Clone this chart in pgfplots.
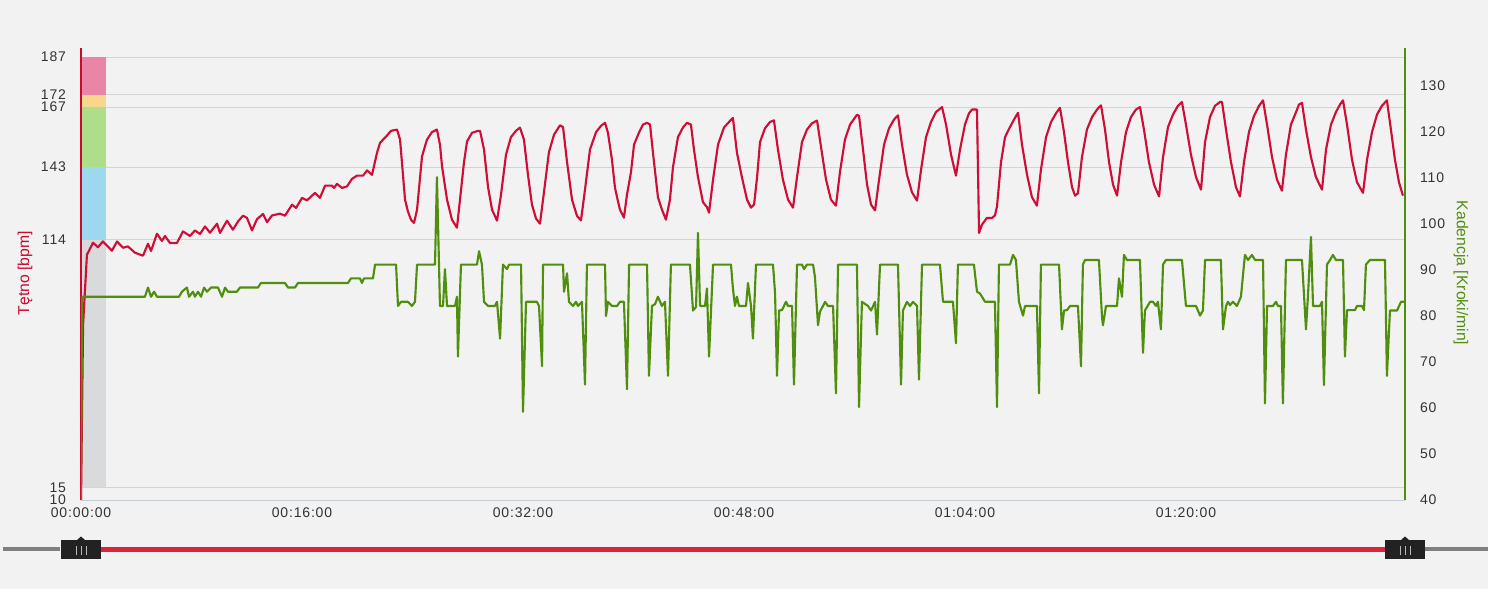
\documentclass[border=0pt]{standalone}
\usepackage{fontspec}
\setmainfont{Liberation Sans}
\usepackage{pgfplots}
\pgfplotsset{compat=1.18}
\definecolor{bg}{RGB}{242,242,242}
\definecolor{hrred}{RGB}{206,14,54}
\definecolor{axred}{RGB}{200,10,45}
\definecolor{cadgreen}{RGB}{80,143,14}
\definecolor{gridc}{RGB}{212,212,212}
\definecolor{botc}{RGB}{200,206,214}
\definecolor{tickc}{RGB}{51,51,51}
\definecolor{zpink}{RGB}{233,134,168}
\definecolor{zyellow}{RGB}{246,215,140}
\definecolor{zgreen}{RGB}{174,222,138}
\definecolor{zblue}{RGB}{157,216,238}
\definecolor{zgray}{RGB}{217,218,219}
\definecolor{slred}{RGB}{218,36,62}
\definecolor{slgray}{RGB}{128,128,128}
\definecolor{handle}{RGB}{34,34,34}
\newcommand{\tickfont}{\fontsize{10.5pt}{12pt}\selectfont\addfontfeatures{LetterSpace=6}}
\newcommand{\labfont}{\fontsize{11.8pt}{13pt}\selectfont}
\begin{document}
\begin{tikzpicture}
\useasboundingbox[fill=bg] (0,0) rectangle (1116pt,441.75pt);
% slider
\begin{scope}[x=0.75pt,y=0.75pt]
\draw[slgray,line width=3pt] (3,40)--(60,40);
\draw[slgray,line width=3pt] (1425,40)--(1488,40);
\draw[slred,line width=3.75pt] (100,40)--(1385,40);
\foreach \c in {81,1405}{
  \fill[handle] (\c-20,30) rectangle (\c+20,49);
  \fill[handle] (\c-4,49)--(\c,52.5)--(\c+4,49)--cycle;
  \foreach \d in {-5,0,5}{\draw[gray!55,line width=0.75pt] (\c+\d,34)--(\c+\d,43);}
}
\end{scope}
% heart-rate axis
\begin{axis}[
  at={(60.75pt,66.75pt)}, anchor=south west,
  scale only axis, width=993pt, height=339pt,
  xmin=0, xmax=95.86, ymin=10, ymax=190.6,
  axis x line*=bottom, axis y line*=left,
  x axis line style={draw=botc, line width=0.75pt},
  y axis line style={draw=axred, line width=1.5pt},
  xtick={0,16,32,48,64,80},
  xticklabels={00:00:00,00:16:00,00:32:00,00:48:00,01:04:00,01:20:00},
  ytick={10,15,114,143,167,172,187},
  major tick length=0pt,
  ymajorgrids, grid style={draw=gridc, line width=0.75pt},
  tick label style={font=\tickfont, text=tickc},
  xticklabel style={yshift=-2.3pt},
  yticklabel style={xshift=-7.75pt},
  /pgf/number format/assume math mode=true,
  every axis y label/.style={at={(axis description cs:-0.0423,0.502)},anchor=center,rotate=90,font=\labfont,text=axred},
  ylabel={Tętno [bpm]},
]
\addplot[fill=zgray,draw=none] coordinates {(0.08,15)(1.81,15)(1.81,114)(0.08,114)} -- cycle;
\addplot[fill=zblue,draw=none] coordinates {(0.08,114)(1.81,114)(1.81,143)(0.08,143)} -- cycle;
\addplot[fill=zgreen,draw=none] coordinates {(0.08,143)(1.81,143)(1.81,167)(0.08,167)} -- cycle;
\addplot[fill=zyellow,draw=none] coordinates {(0.08,167)(1.81,167)(1.81,172)(0.08,172)} -- cycle;
\addplot[fill=zpink,draw=none] coordinates {(0.08,172)(1.81,172)(1.81,187)(0.08,187)} -- cycle;
\addplot[hrred, line width=1.6pt, mark=none, line join=round] coordinates {
(0,10)(0.15,80)(0.43,108)(0.87,112.8)(1.23,111)(1.59,113.3)(2.24,109.6)(2.61,113.3)(3.04,110.8)(3.40,111.3)(3.91,108.8)(4.49,107.6)(4.85,112.4)(5.07,109.5)(5.50,116.4)(5.86,113.5)(6.08,115.5)(6.44,112.7)(6.95,112.7)(7.38,117.3)(7.89,115.5)(8.25,117.7)(8.62,116.3)(8.98,119.3)(9.34,116.8)(9.85,120.4)(10.06,116.7)(10.57,121.6)(11.00,118)(11.37,121.3)(11.73,123.6)(12.02,122.7)(12.38,117.7)(12.74,122.2)(13.18,124.3)(13.47,121)(13.83,123.7)(14.41,124.4)(14.77,123.6)(15.28,128)(15.57,126.7)(16.00,130.7)(16.36,129.7)(16.94,132.7)(17.30,130.7)(17.67,135.6)(18.17,135.6)(18.32,134.7)(18.53,136.3)(18.90,134.7)(19.26,135.3)(19.62,138.3)(19.98,139.6)(20.42,139.6)(20.71,141.7)(21.07,139.9)(21.43,148.7)(21.65,152.7)
(22.15,155.6)(22.44,157.5)(22.88,158)(23.10,154)(23.46,130)(23.67,125.3)(23.89,122)(24.11,120.7)
(24.33,126)(24.69,147.3)(25.05,154)(25.41,157)(25.77,158)
(25.99,152)(26.14,143.3)(26.50,130)(26.86,122)(27.22,118.8)
(27.44,130)(27.73,145)(27.95,153.3)(28.31,156.7)(28.74,157.5)(28.89,157.5)
(29.18,150)(29.47,135)(29.76,126)(30.12,121.6)
(30.41,132)(30.77,148)(31.13,155)(31.49,157.5)(31.78,158.8)
(32.07,154)(32.36,140)(32.65,128)(32.94,122.5)(33.23,120.4)
(33.52,133)(33.88,149)(34.25,156)(34.68,159.7)(34.90,159)
(35.19,145)(35.55,130)(35.91,123.5)(36.20,121.7)
(36.49,134)(36.85,150)(37.29,157)(37.65,159.5)(37.94,160.7)
(38.15,156.8)(38.44,146)(38.66,134.8)(38.81,131)(39.02,126)(39.31,122.8)
(39.53,132)(39.82,141)(40.04,152)(40.40,156.8)(40.69,160)(40.98,160.7)(41.20,160)
(41.41,148.8)(41.77,131)(42.06,126)(42.35,122)
(42.64,130)(42.86,143)(43.22,155)(43.58,158.8)(43.87,160.7)(44.16,160)
(44.38,150)(44.67,139)(45.03,129)(45.32,127)(45.47,124.8)
(45.76,138)(46.12,152)(46.55,158.8)(46.91,161)(47.20,162.7)
(47.49,148.8)(47.85,139)(48.22,130)(48.51,126.8)(48.73,128)
(48.95,139)(49.16,153)(49.52,158.5)(49.88,161)(50.17,161.7)
(50.46,150)(50.82,138)(51.19,130)(51.55,126.8)
(51.84,139)(52.20,153)(52.56,158)(52.92,160.5)(53.29,161.6)
(53.58,151)(53.94,138)(54.30,130)(54.66,127.6)
(54.95,141)(55.31,154)(55.68,160)(56.18,163.9)(56.33,163.5)
(56.62,150)(56.91,136)(57.20,128)(57.49,125.7)
(57.78,138)(58.14,152)(58.50,158.5)(58.86,162)(59.15,163.7)
(59.44,152)(59.80,140)(60.16,133)(60.53,129.6)
(60.82,142)(61.18,155)(61.54,161)(61.90,165)(62.34,167)
(62.63,160)(62.99,148)(63.35,139.6)
(63.64,150)(64.00,160)(64.29,164.5)(64.51,166)(64.87,166)
(65.02,116.7)(65.23,120)(65.59,122.7)(65.96,122.7)(66.17,123.7)(66.32,127.3)
(66.61,145)(66.90,155)(67.26,159)(67.55,162)(67.84,164.7)
(68.13,152)(68.49,140)(68.85,131)(69.21,127.6)
(69.50,142)(69.87,155)(70.23,161)(70.59,164.5)(70.88,166.7)
(71.17,157)(71.46,145)(71.75,135)(71.97,131.6)(72.18,132.5)
(72.47,147)(72.83,158)(73.20,163)(73.56,166)(73.85,167.7)
(74.14,158)(74.43,145)(74.72,136)(75.01,131.6)
(75.30,145)(75.66,157)(76.02,163)(76.38,166)(76.67,167)
(76.96,158)(77.32,145)(77.69,136)(78.05,131.3)
(78.34,147)(78.70,159)(79.06,164)(79.42,167.5)(79.71,169)
(80.00,160)(80.36,148)(80.73,139)(81.09,134)
(81.38,153)(81.74,163)(82.10,167.5)(82.46,169)(82.61,169)
(82.90,158)(83.26,145)(83.62,135)(83.91,131.3)
(84.20,145)(84.56,157)(84.93,163.5)(85.29,167.5)(85.58,169.7)
(85.87,160)(86.23,147)(86.59,138)(86.95,133.6)
(87.24,148)(87.60,160)(87.97,165)(88.18,168)(88.40,168.7)
(88.69,158)(89.05,147)(89.41,139)(89.85,134)
(90.14,150)(90.50,160)(90.86,165)(91.15,168)(91.37,169.7)
(91.66,160)(92.02,146)(92.38,137)(92.82,132.7)
(93.11,146)(93.47,157)(93.83,164)(94.19,167.5)(94.55,169.7)
(94.84,158)(95.13,146)(95.42,137)(95.71,131.6)
};
\end{axis}
% cadence axis
\begin{axis}[
  at={(60.75pt,66.75pt)}, anchor=south west,
  scale only axis, width=993pt, height=339pt,
  xmin=0, xmax=95.86, ymin=40, ymax=138.3,
  axis x line=none, axis y line*=right,
  y axis line style={draw=cadgreen, line width=1.5pt},
  ytick={40,50,60,70,80,90,100,110,120,130},
  major tick length=0pt,
  tick label style={font=\tickfont, text=tickc},
  yticklabel style={xshift=7.75pt},
  /pgf/number format/assume math mode=true,
  every axis y label/.style={at={(axis description cs:1.0423,0.502)},anchor=center,rotate=-90,font=\labfont,text=cadgreen},
  ylabel={Kadencja [Kroki/min]},
]
\addplot[cadgreen, line width=1.6pt, mark=none, line join=round] coordinates {
(0,40)(0.08,84.2)(4.63,84.2)(4.85,86.2)(5.07,84.2)(5.29,85.3)(5.50,84.2)(7.10,84.2)(7.31,85.3)(7.67,86.2)(7.82,84.2)(8.11,85.3)(8.25,84.2)(8.47,85.3)(8.69,84.2)(8.91,86.2)(9.12,85.3)(9.41,86.2)(9.92,86.2)(10.21,84.2)(10.43,86.2)(10.64,85.3)(11.29,85.3)(11.51,86.2)(12.81,86.2)(13.03,87.2)(14.77,87.2)(14.99,86.2)(15.49,86.2)(15.71,87.2)(19.33,87.2)(19.55,88.2)(20.20,88.2)(20.34,87.2)(20.49,88.2)(21.14,88.2)(21.29,91.2)(22.81,91.2)(22.95,82.2)(23.17,83.1)(23.67,83.1)(23.96,82.2)(24.18,83.1)(24.33,91.2)(25.63,91.2)(25.77,110.2)(25.99,82.2)(26.21,82.2)(26.35,90.2)(26.50,82.2)(27.08,82.2)(27.22,84.2)(27.29,71.2)(27.51,91.2)(28.67,91.2)(28.82,94.1)(29.03,91.2)(29.18,83.1)(29.47,82.2)(29.97,82.2)(30.12,83.1)(30.34,75.1)(30.55,91.2)(30.84,90.2)(30.99,91.2)(31.86,91.2)(32.00,59.2)(32.22,83.1)(33.01,83.1)(33.16,82.2)(33.38,69.1)(33.45,91.2)(34.90,91.2)(34.97,85.3)(35.19,89.3)(35.33,83.1)(35.62,82.2)(35.84,83.1)(35.98,82.2)(36.27,83.1)(36.49,65.1)(36.63,91.2)(37.94,91.2)(38.01,80)(38.15,83.1)(38.44,82.2)(38.81,82.2)(39.02,83.1)(39.31,83.1)(39.53,64.1)(39.68,91.2)(40.98,91.2)(41.12,67)(41.34,82.2)(41.56,82.6)(41.77,84.2)(42.06,82.2)(42.28,83.1)(42.50,67)(42.71,91.2)(44.09,91.2)(44.31,81.2)(44.53,82)(44.67,98.1)(44.82,82.2)(45.18,82.2)(45.32,86)(45.47,71.2)(45.76,91.2)(47.06,91.2)(47.20,86)(47.35,82.2)(47.49,84.2)(47.64,82.2)(48.15,82.2)(48.29,87.2)(48.51,82.2)(48.65,75.1)(48.87,91.2)(50.10,91.2)(50.25,85)(50.39,67)(50.54,81.2)(50.75,81.3)(51.04,83.1)(51.19,82.2)(51.48,82.2)(51.62,65.1)(51.84,91.2)(52.20,91.2)(52.35,90.2)(52.56,91.2)(53.00,91.2)(53.14,88.5)(53.36,78)(53.50,80.9)(53.87,83.1)(54.08,82.2)(54.45,82.2)(54.66,63.2)(54.81,91.2)(56.18,91.2)(56.33,60.2)(56.54,83.1)(56.98,82.2)(57.20,81.2)(57.49,83.1)(57.63,76)(57.85,91.2)(59.15,91.2)(59.37,65.1)(59.51,81.2)(59.80,83.1)(60.02,82.2)(60.24,83.1)(60.53,82.2)(60.67,66.2)(60.89,91.2)(62.19,91.2)(62.41,83.1)(63.13,83.1)(63.35,74.1)(63.49,91.2)(64.65,91.2)(64.87,85.3)(65.09,84.9)(65.45,83.1)(66.17,83.1)(66.32,60.2)(66.46,91.2)(67.26,91.2)(67.48,93.3)(67.69,92.2)(67.91,83.1)(68.20,80.1)(68.35,82.2)(69.21,82.2)(69.36,63.2)(69.50,91.2)(70.81,91.2)(71.02,77.1)(71.17,81.2)(71.39,81.3)(71.61,82.2)(72.18,82.2)(72.40,69.1)(72.54,91.2)(72.69,92.2)(73.70,92.2)(73.92,79.9)(73.99,78)(74.21,82.2)(75.01,82.2)(75.15,88.2)(75.37,84.2)(75.51,93.3)(75.73,92.2)(76.67,92.2)(76.89,72)(77.03,81.2)(77.40,83.1)(77.61,83.1)(77.83,82.2)(77.97,83.1)(78.19,77.1)(78.34,91.2)(78.55,92.2)(79.71,92.2)(80.00,82.2)(80.73,82.2)(81.02,80.1)(81.23,81.2)(81.38,92.2)(82.53,92.2)(82.68,77.1)(82.90,82.2)(83.04,83.1)(83.19,82.4)(83.40,83.1)(83.69,82.2)(83.98,84.2)(84.27,93.3)(84.49,92.2)(84.78,93.3)(85.00,92.2)(85.58,92.2)(85.72,61)(85.87,82.2)(86.30,82.2)(86.52,83.1)(86.66,82.2)(86.88,82.2)(87.02,61)(87.24,92.2)(88.40,92.2)(88.69,77.1)(88.83,84.2)(89.05,97.2)(89.20,82.2)(89.70,82.2)(89.85,83.1)(89.99,65)(90.21,91.2)(90.43,92.2)(90.64,93.3)(90.86,92.2)(91.37,92.2)(91.51,71.2)(91.66,81.3)(92.24,81.3)(92.38,82.2)(92.74,82.2)(92.89,81.3)(93.03,91.2)(93.32,92.2)(94.41,92.2)(94.55,67)(94.77,81.2)(95.28,81.2)(95.57,83.1)(95.86,83.1)
};
\end{axis}
\end{tikzpicture}
\end{document}
